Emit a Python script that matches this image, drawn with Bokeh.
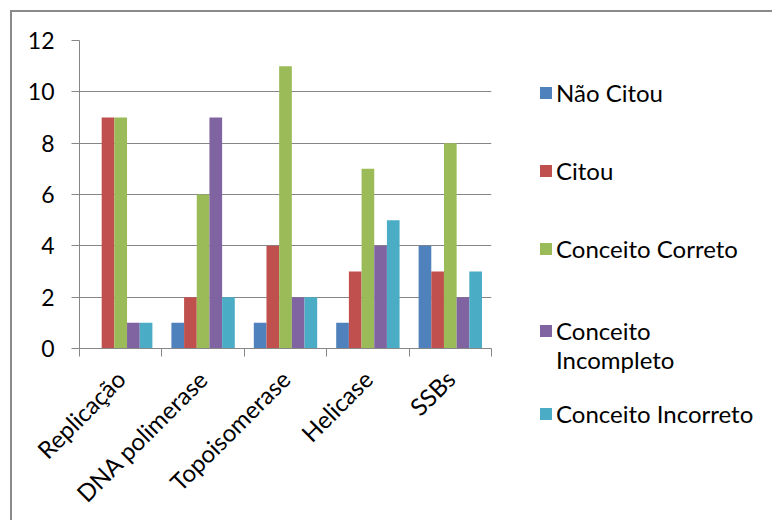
from bokeh.plotting import figure
from bokeh.models import (ColumnDataSource, FixedTicker, Legend, LegendItem, Range1d)
from bokeh.transform import dodge
from bokeh.embed import file_html
from bokeh.resources import INLINE

categories = ["Replicação", "DNA polimerase", "Topoisomerase", "Helicase", "SSBs"]
series_names = ["Não Citou", "Citou", "Conceito Correto", "Conceito Incompleto", "Conceito Incorreto"]
legend_labels = ["Não Citou", "Citou", "Conceito Correto", "\nConceito\nIncompleto", "Conceito Incorreto"]
nao_citou = [0, 1, 1, 1, 4]
citou = [9, 2, 4, 3, 3]
conceito_correto = [9, 6, 11, 7, 8]
conceito_incompleto = [1, 9, 2, 4, 2]
conceito_incorreto = [1, 2, 2, 5, 3]
colors = ["#4F81BD", "#C0504D", "#9BBB59", "#8064A2", "#4BACC6"]
y_ticks = [0, 2, 4, 6, 8, 10, 12]

FONT = "Lato"
GRAY = "#868686"

n = len(categories)
xpos = [i + 0.5 for i in range(n)]
source = ColumnDataSource(dict(
    x=xpos,
    s0=nao_citou, s1=citou, s2=conceito_correto, s3=conceito_incompleto, s4=conceito_incorreto,
))

p = figure(frame_width=412, frame_height=308, output_backend="svg", toolbar_location=None,
           x_range=Range1d(0, n), y_range=Range1d(0, 12),
           min_border_left=67, min_border_right=0, min_border_top=28, min_border_bottom=0)
p.margin = (10, 0, 0, 10)
p.styles = {"border-top": "2px solid #8a8a8a", "border-left": "2px solid #8a8a8a"}
p.outline_line_color = None
p.background_fill_color = "white"
p.border_fill_color = "white"

bw = 1 / 6.5
renderers = []
for i, col in enumerate(["s0", "s1", "s2", "s3", "s4"]):
    r = p.vbar(x=dodge("x", (i - 2) * bw, range=p.x_range), top=col, width=bw,
               source=source, fill_color=colors[i], line_color=None)
    renderers.append(r)

# axes
xa = p.xaxis[0]
xa.ticker = FixedTicker(ticks=xpos, minor_ticks=list(range(n + 1)))
xa.major_label_overrides = {x: c for x, c in zip(xpos, categories)}
xa.major_tick_line_color = None
xa.major_tick_out = 0
xa.minor_tick_out = 8
xa.minor_tick_in = 0
xa.minor_tick_line_color = GRAY
xa.axis_line_color = GRAY
xa.major_label_orientation = 0.785398
xa.major_label_standoff = 18
xa.major_label_text_font = FONT
xa.major_label_text_font_size = "24px"
xa.major_label_text_color = "black"

ya = p.yaxis[0]
ya.ticker = FixedTicker(ticks=y_ticks)
ya.major_tick_out = 8
ya.major_tick_in = 0
ya.major_tick_line_color = GRAY
ya.minor_tick_line_color = None
ya.axis_line_color = GRAY
ya.major_label_standoff = 17
ya.major_label_text_font = FONT
ya.major_label_text_font_size = "23px"
ya.major_label_text_color = "black"

p.xgrid.grid_line_color = None
p.ygrid.grid_line_color = GRAY
p.ygrid.ticker = FixedTicker(ticks=y_ticks)

items = [LegendItem(label=legend_labels[i], renderers=[renderers[i]]) for i in range(n)]
legend = Legend(items=items, location=(47, -104), orientation="vertical",
                glyph_width=15, glyph_height=15, label_standoff=3,
                label_height=78, spacing=0, padding=0, margin=0,
                border_line_color=None, background_fill_alpha=0,
                label_text_font=FONT, label_text_font_size="24px",
                label_text_color="black")
p.add_layout(legend, "right")

open("out.html", "w").write(file_html(p, INLINE))
